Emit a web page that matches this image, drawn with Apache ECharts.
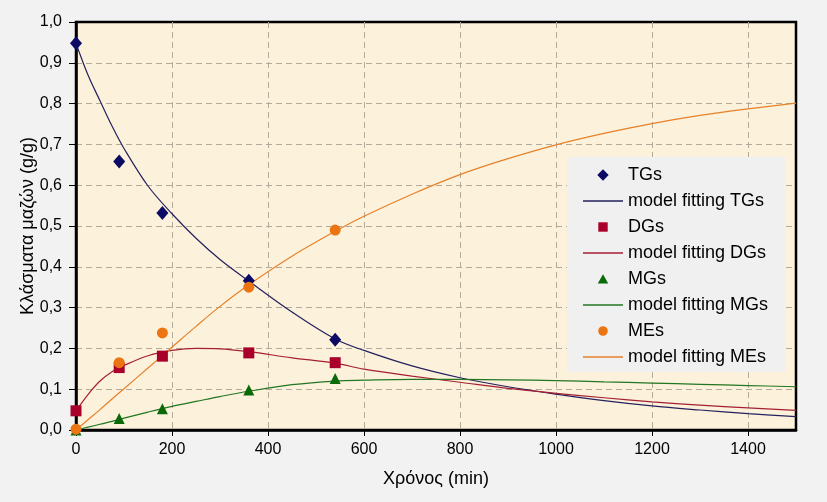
<!DOCTYPE html>
<html>
<head>
<meta charset="utf-8">
<script src="https://cdn.jsdelivr.net/npm/echarts@6/dist/echarts.min.js"></script>
<style>
html,body{margin:0;padding:0;background:#f2f2f2;}
#chart{width:827px;height:502px;}
</style>
</head>
<body>
<div id="chart"></div>
<script>
// Observed data (time in min, mass fractions g/g)
const timeObs = [0, 90, 180, 360, 540];
const tgObs = [0.948, 0.658, 0.532, 0.366, 0.221];
const dgObs = [0.047, 0.153, 0.181, 0.189, 0.165];
const mgObs = [0.0, 0.028, 0.052, 0.098, 0.126];
const meObs = [0.002, 0.165, 0.238, 0.35, 0.49];

// Model fitting curves
const timeFit = [0, 25, 50, 75, 100, 150, 200, 250, 300, 360, 450, 540, 600, 700, 800, 900, 1000, 1100, 1200, 1300, 1400, 1500];
const tgFit = [0.948, 0.87, 0.807, 0.745, 0.69, 0.598, 0.53, 0.47, 0.418, 0.365, 0.289, 0.223, 0.195, 0.157, 0.128, 0.106, 0.088, 0.072, 0.059, 0.049, 0.040, 0.033];
const dgFit = [0.047, 0.087, 0.12, 0.143, 0.158, 0.182, 0.195, 0.2, 0.199, 0.192, 0.177, 0.164, 0.149, 0.132, 0.117, 0.102, 0.09, 0.079, 0.069, 0.061, 0.054, 0.048];
const mgFit = [0.0, 0.007, 0.014, 0.021, 0.029, 0.044, 0.058, 0.07, 0.082, 0.095, 0.111, 0.12, 0.122, 0.124, 0.124, 0.123, 0.121, 0.118, 0.115, 0.112, 0.109, 0.106];
const meFit = [0.0, 0.025, 0.05, 0.076, 0.101, 0.152, 0.203, 0.254, 0.303, 0.356, 0.426, 0.487, 0.524, 0.578, 0.626, 0.665, 0.699, 0.727, 0.751, 0.771, 0.787, 0.801];

const xTicks = [0, 200, 400, 600, 800, 1000, 1200, 1400];
const legendNames = ['TGs', 'model fitting TGs', 'DGs', 'model fitting DGs', 'MGs', 'model fitting MGs', 'MEs', 'model fitting MEs'];

const colors = {
  tg: '#0b0b66', tgLine: '#25205e',
  dg: '#a8002a', dgLine: '#a51f33',
  mg: '#0a6a0a', mgLine: '#237523',
  me: '#ea7512', meLine: '#e6812a'
};

// legend icons drawn inside a 40x12 box (corner moveTo points fix the box)
const BOX = 'M0,0 M40,12 ';
const legendIcons = {
  line: 'path://' + BOX + 'M0,5.3 L40,5.3 L40,6.7 L0,6.7 Z',
  diamond: 'path://' + BOX + 'M20,0.3 L25.7,6 L20,11.7 L14.3,6 Z',
  rect: 'path://' + BOX + 'M15.3,1.3 L24.7,1.3 L24.7,10.7 L15.3,10.7 Z',
  triangle: 'path://' + BOX + 'M20,1.2 L25.2,10.6 L14.8,10.6 Z',
  circle: 'path://' + BOX + 'M20,1.2 A4.8,4.8 0 1 1 19.99,1.2 Z'
};
const legendIconOf = ['diamond', 'line', 'rect', 'line', 'triangle', 'line', 'circle', 'line'];

function pairs(xs, ys) { return xs.map((x, i) => [x, ys[i]]); }

const fontFam = "'Liberation Sans', Arial, sans-serif";

const chart = echarts.init(document.getElementById('chart'), null, {renderer: 'canvas'});

function lineSeries(name, ys, color) {
  return {
    name: name, type: 'line', data: pairs(timeFit, ys), smooth: 0.35,
    symbol: 'none', lineStyle: {color: color, width: 1.2}, itemStyle: {color: color}, z: 2
  };
}
function scatterSeries(name, ys, color, symbol, size) {
  return {
    name: name, type: 'scatter', data: pairs(timeObs, ys), symbol: symbol, symbolSize: size,
    itemStyle: {color: color, opacity: 1}, z: 5
  };
}

chart.setOption({
  backgroundColor: '#f2f2f2',
  animation: false,
  textStyle: {fontFamily: fontFam},
  grid: {
    left: 76, right: 31, top: 22, bottom: 72,
    show: true, backgroundColor: '#fcf2db', borderColor: '#000', borderWidth: 2.5
  },
  legend: {
    orient: 'vertical', left: 567, top: 157,
    backgroundColor: '#f0f0f0', padding: [9, 18, 6, 16],
    itemWidth: 40, itemHeight: 12, itemGap: 8,
    textStyle: {fontSize: 18, color: '#000', fontFamily: fontFam, lineHeight: 18},
    data: legendNames.map((n, i) => ({name: n, icon: legendIcons[legendIconOf[i]]}))
  },
  xAxis: {
    type: 'value', min: 0, max: 1500, interval: 200,
    name: 'Χρόνος (min)', nameLocation: 'middle', nameGap: 40, nameMoveOverlap: false,
    nameTextStyle: {fontSize: 18, color: '#000', fontFamily: fontFam},
    axisLine: {show: true, onZero: false, lineStyle: {color: '#000', width: 2.5}},
    axisTick: {show: true, length: 6, lineStyle: {color: '#000', width: 1}},
    axisLabel: {fontSize: 16, color: '#000', margin: 12, showMaxLabel: false,
      formatter: (v) => xTicks.indexOf(v) >= 0 ? String(v) : ''},
    splitLine: {show: true, showMinLine: false, showMaxLine: false,
      lineStyle: {color: '#b3aa9c', type: [6, 4], width: 1}}
  },
  yAxis: {
    type: 'value', min: 0, max: 1, interval: 0.1,
    name: 'Κλάσματα μαζών (g/g)', nameLocation: 'middle', nameGap: 39, nameMoveOverlap: false,
    nameTextStyle: {fontSize: 18, color: '#000', fontFamily: fontFam},
    axisLine: {show: true, onZero: false, lineStyle: {color: '#000', width: 2.5}},
    axisTick: {show: true, length: 7, lineStyle: {color: '#000', width: 1}},
    axisLabel: {fontSize: 16, color: '#000', margin: 14,
      formatter: (v) => v.toFixed(1).replace('.', ',')},
    splitLine: {show: true, showMinLine: false, showMaxLine: false,
      lineStyle: {color: '#b3aa9c', type: [6, 4], width: 1}}
  },
  series: [
    lineSeries('model fitting TGs', tgFit, colors.tgLine),
    lineSeries('model fitting DGs', dgFit, colors.dgLine),
    lineSeries('model fitting MGs', mgFit, colors.mgLine),
    lineSeries('model fitting MEs', meFit, colors.meLine),
    scatterSeries('TGs', tgObs, colors.tg, 'diamond', [12, 14]),
    scatterSeries('DGs', dgObs, colors.dg, 'rect', 11),
    scatterSeries('MGs', mgObs, colors.mg, 'triangle', 11),
    scatterSeries('MEs', meObs, colors.me, 'circle', 11)
  ]
});
</script>
</body>
</html>
